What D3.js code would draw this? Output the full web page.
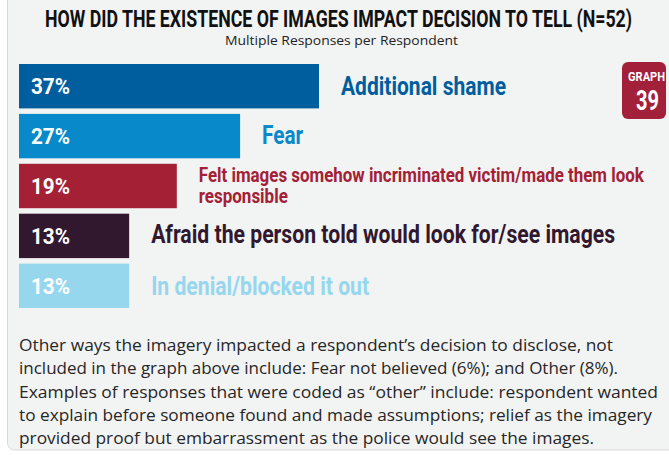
<!DOCTYPE html>
<html>
<head>
<meta charset="utf-8">
<script src="https://cdn.jsdelivr.net/npm/d3@7/dist/d3.min.js"></script>
<style>
  html, body { margin: 0; padding: 0; background: #fff; }
  svg { display: block; }
  .cond { font-family: Roboto, "Liberation Sans", sans-serif; font-weight: bold; }
  .body { font-family: "Open Sans", Roboto, sans-serif; }
</style>
</head>
<body>
<div id="chart"></div>
<script>
// Data
const categories = [
  'Additional shame',
  'Fear',
  'Felt images somehow incriminated victim/made them look|responsible',
  'Afraid the person told would look for/see images',
  'In denial/blocked it out'
];
const values = [36.5, 26.9, 19.2, 13.4, 13.4];
const colors = ['#005e9e', '#0889c9', '#a32035', '#31182f', '#96d7ee'];

const title = 'HOW DID THE EXISTENCE OF IMAGES IMPACT DECISION TO TELL (N=52)';
const subtitle = 'Multiple Responses per Respondent';
const footnote = [
  'Other ways the imagery impacted a respondent\u2019s decision to disclose, not',
  'included in the graph above include: Fear not believed (6%); and Other (8%).',
  'Examples of responses that were coded as \u201cother\u201d include: respondent wanted',
  'to explain before someone found and made assumptions; relief as the imagery',
  'provided proof but embarrassment as the police would see the images.'
];

// layout (the original uses a condensed DIN face, so widths are fitted)
const labelSize = [26, 26, 20, 25.5, 25.5];
const labelWidth = [[165], [41], [445, 89], [464], [218]];
const labelDy = [9, 8, -4, 7.5, 9];
const footWidth = [594, 599, 639, 633, 575];

const W = 669, H = 455;

const svg = d3.select('#chart').append('svg')
  .attr('width', W)
  .attr('height', H);

// panel
svg.append('rect')
  .attr('x', 7.5).attr('y', -20)
  .attr('width', W + 20).attr('height', 470)
  .attr('rx', 7)
  .attr('fill', '#f2f3f3')
  .attr('stroke', '#d9dadb');

// title
svg.append('text')
  .attr('class', 'cond')
  .attr('x', 338.5).attr('y', 27)
  .attr('text-anchor', 'middle')
  .attr('font-size', 24.5)
  .attr('fill', '#111')
  .attr('textLength', 587)
  .attr('lengthAdjust', 'spacingAndGlyphs')
  .text(title);

svg.append('text')
  .attr('class', 'body')
  .attr('x', 341.5).attr('y', 45)
  .attr('text-anchor', 'middle')
  .attr('font-size', 12)
  .attr('fill', '#222')
  .attr('textLength', 233)
  .attr('lengthAdjust', 'spacingAndGlyphs')
  .text(subtitle);

// scales
const x = d3.scaleLinear().domain([0, 36.5]).range([19, 319]);
const y = d3.scaleBand().domain(d3.range(values.length)).range([64, 308]).paddingInner(0.11).paddingOuter(0);

const g = svg.append('g');

g.selectAll('rect.bar')
  .data(values)
  .join('rect')
  .attr('class', 'bar')
  .attr('x', x(0))
  .attr('y', (d, i) => y(i))
  .attr('width', d => x(d) - x(0))
  .attr('height', y.bandwidth())
  .attr('fill', (d, i) => colors[i]);

g.selectAll('text.pct')
  .data(values)
  .join('text')
  .attr('class', 'pct cond')
  .attr('x', 31)
  .attr('y', (d, i) => y(i) + y.bandwidth() / 2 + 8)
  .attr('font-size', 22)
  .attr('fill', '#fff')
  .attr('textLength', 39)
  .attr('lengthAdjust', 'spacingAndGlyphs')
  .text(d => Math.round(d) + '%');

const labels = g.selectAll('text.lab')
  .data(categories)
  .join('text')
  .attr('class', 'lab cond')
  .attr('y', (d, i) => y(i) + y.bandwidth() / 2 + labelDy[i])
  .attr('font-size', (d, i) => labelSize[i])
  .attr('fill', (d, i) => colors[i]);

labels.each(function (d, i) {
  const t = d3.select(this);
  d.split('|').forEach((line, k) => {
    t.append('tspan')
      .attr('x', x(values[i]) + 22)
      .attr('dy', k === 0 ? 0 : 21)
      .attr('textLength', labelWidth[i][k])
      .attr('lengthAdjust', 'spacingAndGlyphs')
      .text(line);
  });
});

// badge
const badge = svg.append('g').attr('transform', 'translate(622,62)');
badge.append('rect')
  .attr('width', 44).attr('height', 57)
  .attr('rx', 6)
  .attr('fill', '#a3203a');
badge.append('text')
  .attr('class', 'cond')
  .attr('x', 24.5).attr('y', 19)
  .attr('text-anchor', 'middle')
  .attr('font-size', 12.5)
  .attr('fill', '#fff')
  .attr('textLength', 37)
  .attr('lengthAdjust', 'spacingAndGlyphs')
  .text('GRAPH');
badge.append('text')
  .attr('class', 'cond')
  .attr('x', 25.5).attr('y', 48)
  .attr('text-anchor', 'middle')
  .attr('font-size', 28)
  .attr('fill', '#fff')
  .attr('textLength', 23)
  .attr('lengthAdjust', 'spacingAndGlyphs')
  .text('39');

// footnote
svg.append('g').selectAll('text')
  .data(footnote)
  .join('text')
  .attr('class', 'body')
  .attr('x', 19)
  .attr('y', (d, i) => 351 + i * 23.3)
  .attr('font-size', 16)
  .attr('fill', '#262626')
  .attr('textLength', (d, i) => footWidth[i])
  .attr('lengthAdjust', 'spacingAndGlyphs')
  .text(d => d);
</script>
</body>
</html>
